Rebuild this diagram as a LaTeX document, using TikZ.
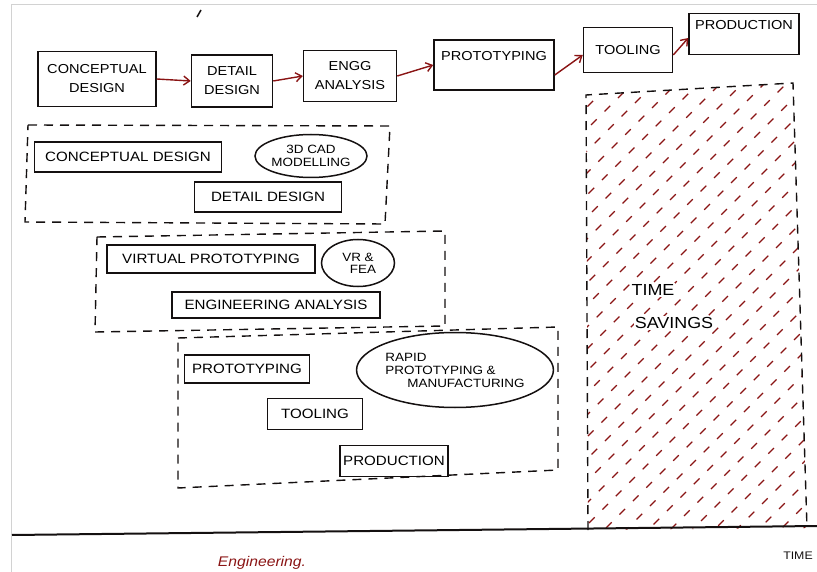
\documentclass[tikz,border=0pt]{standalone}
\usepackage{fontspec}
\setmainfont[FakeStretch=1.12]{Liberation Sans}
\usetikzlibrary{arrows.meta,shapes.geometric}
\definecolor{ink}{HTML}{141010}
\definecolor{redink}{HTML}{8A1414}
\begin{document}
\begin{tikzpicture}[x=1pt,y=-1pt,
  box/.style={draw=ink,line width=1.5pt,rectangle,inner sep=2pt,align=center,font=\fontsize{13.5}{15}\selectfont},
  tbox/.style={box,font=\fontsize{13}{19}\selectfont},
  oval/.style={draw=ink,line width=1.5pt,ellipse,inner sep=0pt,align=center,font=\fontsize{12}{13}\selectfont},
  flow/.style={draw=redink,line width=1.4pt,-{Straight Barb[length=6pt,width=9pt]}},
  grp/.style={draw=ink,line width=1.4pt,dash pattern=on 9pt off 7pt},
  hatch/.style={draw=redink,line width=1.1pt,dash pattern=on 8pt off 11pt}]
\useasboundingbox (0,0) rectangle (817,572);
% frame
\draw[gray!35,line width=1pt] (11,572) -- (11,5) -- (817,5);
\draw[ink,line width=1.5pt] (201,10) -- (197,17);
% top flow
\node[tbox,minimum width=118pt,minimum height=55pt] (c1) at (97,79) {CONCEPTUAL\\DESIGN};
\node[tbox,minimum width=81pt,minimum height=52pt] (c2) at (232,81) {DETAIL\\DESIGN};
\node[tbox,minimum width=93pt,minimum height=51pt] (c3) at (350,76) {ENGG\\ANALYSIS};
\node[tbox,minimum width=120pt,minimum height=50pt] (c4) at (494,65) {PROTOTYPING\\\mbox{}};
\node[tbox,minimum width=89pt,minimum height=45pt] (c5) at (628,50) {TOOLING};
\node[tbox,minimum width=110pt,minimum height=41pt] (c6) at (744,34) {PRODUCTION\\\mbox{}};
\draw[flow] (c1.east) -- (c2.west);
\draw[flow] (c2.east) -- (c3.west);
\draw[flow] (c3.east) -- (c4.west);
\draw[flow] ([yshift=-10pt]c4.east) -- ([yshift=-5pt]c5.west);
\draw[flow] ([yshift=-5pt]c5.east) -- ([yshift=-4pt]c6.west);
% group 1
\coordinate (g1a) at (28,125); \coordinate (g1b) at (390,126);
\coordinate (g1c) at (385,224); \coordinate (g1d) at (25,222);
\draw[grp] (g1a) -- (g1b) -- (g1c) -- (g1d) -- cycle;
\node[box,minimum width=187pt,minimum height=30pt] (a1) at (128,157) {CONCEPTUAL DESIGN};
\node[oval,minimum width=112pt,minimum height=43pt] (a2) at (311,156) {3D CAD\\MODELLING};
\node[box,minimum width=147pt,minimum height=30pt] (a3) at (268,197) {DETAIL DESIGN};
% group 2
\coordinate (g2a) at (97,237); \coordinate (g2b) at (445,231);
\coordinate (g2c) at (445,326); \coordinate (g2d) at (95,332);
\draw[grp] (g2a) -- (g2b) -- (g2c) -- (g2d) -- cycle;
\node[box,minimum width=208pt,minimum height=28pt] (b1) at (211,259) {VIRTUAL PROTOTYPING};
\node[oval,minimum width=73pt,minimum height=47pt] (b2) at (358,263) {VR \&\\[-1pt]\hspace*{10pt}FEA};
\node[box,minimum width=208pt,minimum height=26pt] (b3) at (276,305) {ENGINEERING ANALYSIS};
% group 3
\coordinate (g3a) at (178,338); \coordinate (g3b) at (558,327);
\coordinate (g3c) at (558,470); \coordinate (g3d) at (178,488);
\draw[grp] (g3a) -- (g3b) -- (g3c) -- (g3d) -- cycle;
\node[box,minimum width=125pt,minimum height=28pt] (d1) at (247,369) {PROTOTYPING};
\node[oval,minimum width=189pt,minimum height=75pt,align=left] (d2) at (455,370) {RAPID\\PROTOTYPING \&\\\hspace*{22pt}MANUFACTURING};
\node[box,minimum width=95pt,minimum height=31pt] (d3) at (315,414) {TOOLING};
\node[box,minimum width=108pt,minimum height=31pt] (d4) at (394,461) {PRODUCTION};
% time savings region
\coordinate (ta) at (586,95); \coordinate (tb) at (793,83);
\coordinate (tc) at (807,528); \coordinate (td) at (588,530);
\begin{scope}
  \clip (ta) -- (tb) -- (tc) -- (td) -- cycle;
  \foreach \k in {0,...,33} {
    \draw[hatch,dash phase=\k*7pt] (110+\k*22,540) -- ++(470,-470);
  }
\end{scope}
\draw[grp] (td) -- (ta) -- (tb) -- (tc);
\node[fill=white,inner sep=1pt,font=\fontsize{16}{17}\selectfont] (t1) at (653,290) {TIME};
\node[fill=white,inner sep=1pt,font=\fontsize{16}{17}\selectfont] (t2) at (674,323) {SAVINGS};
% baseline
\coordinate (l0) at (12,535); \coordinate (l1) at (817,526);
\draw[draw=ink,line width=2pt] (l0) -- (l1);
\node[font=\fontsize{11}{12}\selectfont,text=ink] (tm) at (798,556) {TIME};
\node[font=\itshape\fontsize{14}{14}\selectfont,text=redink] (en) at (262,563) {Engineering.};
\end{tikzpicture}
\end{document}
